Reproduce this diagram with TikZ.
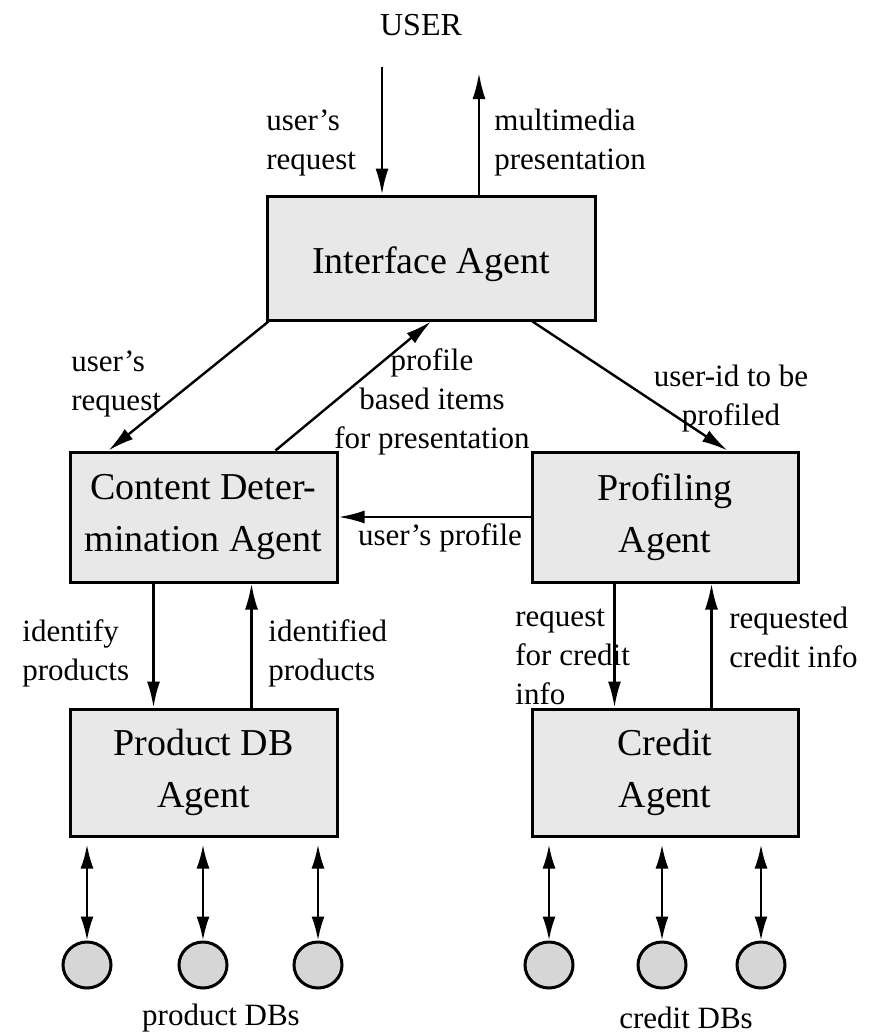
\documentclass[tikz,border=0pt]{standalone}
\usepackage{fontspec}
\setmainfont{Liberation Serif}
\usepackage{tikz}
\usetikzlibrary{arrows.meta,calc,shapes.geometric}

\begin{document}
\begin{tikzpicture}[x=0.5pt,y=-0.5pt,
  agent/.style={draw,line width=1.5pt,fill=gray!18,align=center,
    font=\fontsize{19}{26}\selectfont,inner sep=0pt},
  dbnode/.style={ellipse,draw,line width=1.5pt,fill=gray!32,minimum width=24pt,minimum height=23pt,inner sep=0pt},
  lbl/.style={font=\fontsize{15.5}{19.5}\selectfont,inner sep=0pt},
  arr/.style={line width=1.2pt,-{Latex[length=13pt,width=6.5pt]}},
  dblarr/.style={line width=1.2pt,{Latex[length=12pt,width=6.5pt]}-{Latex[length=12pt,width=6.5pt]}}]
\useasboundingbox (0,0) rectangle (873,1033);

\node[lbl,font=\fontsize{16}{19}\selectfont] (user) at (421,25) {USER};
\coordinate (userin) at (382,67);
\coordinate (userout) at (479,73);

\node[agent,minimum width=164pt,minimum height=62pt,text height=20pt] (interface) at (431,258) {Interface Agent};
\node[agent,minimum width=133.5pt,minimum height=65pt] (content) at (203.5,517) {Content Deter-\\mination Agent};
\node[agent,minimum width=133pt,minimum height=65pt] (profiling) at (665,517) {Profiling\\Agent};
\node[agent,minimum width=133.5pt,minimum height=63.5pt] (productdb) at (203.5,772.5) {Product DB\\Agent};
\node[agent,minimum width=133pt,minimum height=63.5pt] (credit) at (665,772.5) {Credit\\Agent};

\node[dbnode] (pdb1) at (87,965) {};
\node[dbnode] (pdb2) at (203,965) {};
\node[dbnode] (pdb3) at (318,965) {};
\node[dbnode] (cdb1) at (549,965) {};
\node[dbnode] (cdb2) at (662,965) {};
\node[dbnode] (cdb3) at (761,965) {};

\node[lbl] (pdblabel) at (221,1018) {product DBs};
\node[lbl] (cdblabel) at (686,1018) {credit DBs};

\draw[arr] (userin) -- (userin |- interface.north);
\draw[arr] (userout |- interface.north) -- (userout);
\draw[arr] ([xshift=1.5pt]interface.south west) -- ([xshift=20pt]content.north west);
\draw[arr] ([xshift=-31.5pt]content.north east) -- (interface.south);
\draw[arr] ([xshift=-32pt]interface.south east) -- ([xshift=-36pt]profiling.north east);
\draw[arr] (profiling.west) -- (content.east);
\draw[arr] ([xshift=42.5pt]content.south west) -- ([xshift=42.5pt]productdb.north west);
\draw[arr] ([xshift=91.5pt]productdb.north west) -- ([xshift=91.5pt]content.south west);
\draw[arr] ([xshift=42pt]profiling.south west) -- ([xshift=42pt]credit.north west);
\draw[arr] ([xshift=90.5pt]credit.north west) -- ([xshift=90.5pt]profiling.south west);

\foreach \db in {pdb1,pdb2,pdb3}
  \draw[dblarr,shorten <=3.5pt] (\db.north |- productdb.south) -- (\db.north);
\foreach \db in {cdb1,cdb2,cdb3}
  \draw[dblarr,shorten <=3.5pt] (\db.north |- credit.south) -- (\db.north);

\node[lbl,anchor=west,align=left] (reqtop) at (266,143) {user's\\request};
\node[lbl,anchor=west,align=left] (presentation) at (494,143) {multimedia\\presentation};
\node[lbl,anchor=west,align=left] (reqleft) at (71,384) {user's\\request};
\node[lbl,align=center] (items) at (432,402) {profile\\based items\\for presentation};
\node[lbl,align=center] (userid) at (731,399) {user-id to be\\profiled};
\node[lbl] (userprofile) at (440,538) {user's profile};
\node[lbl,anchor=west,align=left] (identify) at (22,653) {identify\\products};
\node[lbl,anchor=west,align=left] (identified) at (268,653) {identified\\products};
\node[lbl,anchor=west,align=left] (creditreq) at (515,657) {request\\for credit\\info};
\node[lbl,anchor=west,align=left] (creditinfo) at (729,637) {requested\\credit info};
\end{tikzpicture}
\end{document}
